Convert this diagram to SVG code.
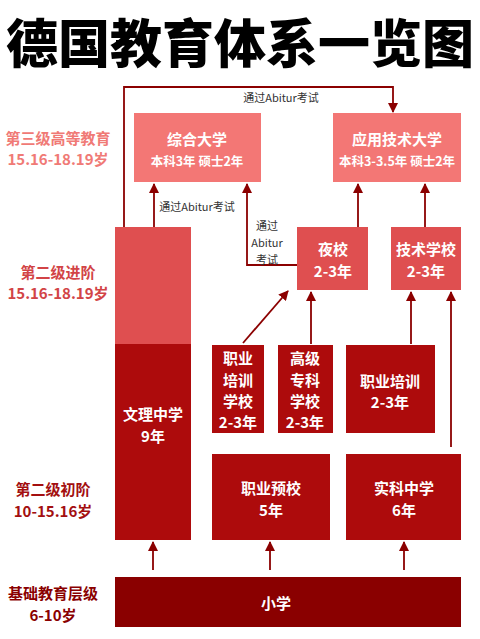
<svg xmlns="http://www.w3.org/2000/svg" width="480" height="639" viewBox="0 0 480 639">
<style>
text{font-family:"Noto Sans CJK SC","Noto Sans",sans-serif;text-anchor:middle;dominant-baseline:central}
.t{font-size:52px;font-weight:900;fill:#000}
.n{font-size:15px;font-weight:bold;fill:#fff}
.s{font-size:12.5px;font-weight:bold;fill:#fff}
.c{font-size:11px;fill:#333}
.l{font-size:15px;font-weight:bold}
.a{stroke:#8b0000;stroke-width:1.8;fill:none;marker-end:url(#ah)}
.p1{fill:#f37775}
.p2{fill:#df4f50}
.p3{fill:#ad0b0c}
.p4{fill:#8a0000}
</style>
<defs>
<marker id="ah" viewBox="0 0 10 10" refX="9" refY="5" markerWidth="10" markerHeight="10" markerUnits="userSpaceOnUse" orient="auto">
<path d="M0,0 L10,5 L0,10 z" fill="#8b0000"/>
</marker>
</defs>
<rect width="480" height="639" fill="#fff"/>
<text class="t" x="240" y="40">德国教育体系一览图</text>

<g id="levels">
<text class="l" x="58" y="137" fill="#f07a76">第三级高等教育</text>
<text class="l" x="58" y="158" fill="#f07a76">15.16-18.19岁</text>
<text class="l" x="58" y="271" fill="#d24446">第二级进阶</text>
<text class="l" x="58" y="292" fill="#d24446">15.16-18.19岁</text>
<text class="l" x="53" y="488" fill="#a30f10">第二级初阶</text>
<text class="l" x="53" y="510" fill="#a30f10">10-15.16岁</text>
<text class="l" x="53" y="592" fill="#8a0000">基础教育层级</text>
<text class="l" x="53" y="614" fill="#8a0000">6-10岁</text>
</g>

<g id="connectors">
<polyline class="a" points="124,228 124,87 393,87 393,112"/>
<text class="c" x="281" y="97">通过Abitur考试</text>
<line class="a" x1="154" y1="228" x2="154" y2="184"/>
<text class="c" x="197" y="206">通过Abitur考试</text>
<polyline class="a" points="297,265 247,265 247,184"/>
<text class="c" x="267" y="225">通过</text>
<text class="c" x="267" y="242">Abitur</text>
<text class="c" x="267" y="259">考试</text>
<line class="a" x1="358" y1="227" x2="358" y2="184"/>
<line class="a" x1="425" y1="227" x2="425" y2="184"/>
<line class="a" x1="243" y1="343" x2="288" y2="291"/>
<line class="a" x1="311" y1="344" x2="311" y2="292"/>
<line class="a" x1="411" y1="344" x2="411" y2="292"/>
<line class="a" x1="451" y1="447" x2="451" y2="292"/>
<line class="a" x1="153" y1="570" x2="153" y2="542"/>
<line class="a" x1="270" y1="570" x2="270" y2="542"/>
<line class="a" x1="404" y1="570" x2="404" y2="542"/>
</g>

<g id="zonghe">
<rect class="p1" x="134" y="113" width="127" height="69"/>
<text class="n" x="197" y="138">综合大学</text>
<text class="s" x="197" y="160">本科3年 硕士2年</text>
</g>
<g id="yingyong">
<rect class="p1" x="333" y="113" width="128" height="69"/>
<text class="n" x="397" y="138">应用技术大学</text>
<text class="s" x="397" y="160">本科3-3.5年 硕士2年</text>
</g>
<g id="yexiao">
<rect class="p2" x="297" y="227" width="71" height="63"/>
<text class="n" x="333" y="248">夜校</text>
<text class="n" x="333" y="270">2-3年</text>
</g>
<g id="jishu">
<rect class="p2" x="391" y="227" width="70" height="63"/>
<text class="n" x="426" y="248">技术学校</text>
<text class="n" x="426" y="270">2-3年</text>
</g>
<g id="wenli">
<rect class="p2" x="115" y="227" width="76" height="118"/>
<rect class="p3" x="115" y="344" width="76" height="196"/>
<text class="n" x="153" y="413">文理中学</text>
<text class="n" x="153" y="435">9年</text>
</g>
<g id="zhiyepeixunxuexiao">
<rect class="p3" x="212" y="345" width="52" height="88"/>
<text class="n" x="238" y="357">职业</text>
<text class="n" x="238" y="379">培训</text>
<text class="n" x="238" y="400">学校</text>
<text class="n" x="238" y="421">2-3年</text>
</g>
<g id="gaoji">
<rect class="p3" x="278" y="345" width="55" height="88"/>
<text class="n" x="305" y="357">高级</text>
<text class="n" x="305" y="379">专科</text>
<text class="n" x="305" y="400">学校</text>
<text class="n" x="305" y="421">2-3年</text>
</g>
<g id="zhiyepeixun">
<rect class="p3" x="346" y="345" width="89" height="88"/>
<text class="n" x="390" y="380">职业培训</text>
<text class="n" x="390" y="401">2-3年</text>
</g>
<g id="yuxiao">
<rect class="p3" x="212" y="454" width="118" height="86"/>
<text class="n" x="271" y="487">职业预校</text>
<text class="n" x="271" y="509">5年</text>
</g>
<g id="shike">
<rect class="p3" x="346" y="454" width="115" height="86"/>
<text class="n" x="404" y="487">实科中学</text>
<text class="n" x="404" y="509">6年</text>
</g>
<g id="xiaoxue">
<rect class="p4" x="115" y="577" width="346" height="50"/>
<text class="n" x="276" y="602">小学</text>
</g>
</svg>
